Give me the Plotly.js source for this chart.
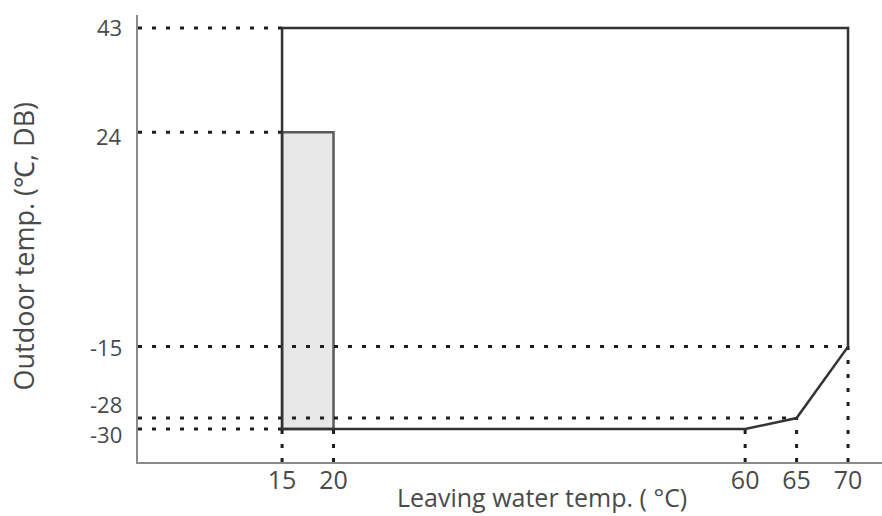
<!DOCTYPE html>
<html>
<head>
<meta charset="utf-8">
<script src="https://cdn.plot.ly/plotly-3.0.1.min.js"></script>
<style>html,body{margin:0;padding:0;background:#fff;}#chart{width:882px;height:516px;}</style>
</head>
<body>
<div id="chart"></div>
<script>
// ---- data ----
const envelopeX = [15, 70, 70, 65, 60, 15, 15];
const envelopeY = [43, 43, -15, -28, -30, -30, 43];
const lowRangeX = [15, 20, 20, 15, 15];
const lowRangeY = [-30, -30, 24, 24, -30];
const xTickVals = [15, 20, 60, 65, 70];
const xTickTop = [-30, -30, -30, -28, -15];   // vertical guide reaches this y
const yTickVals = [43, 24, -15, -28, -30];
const yTickEnd = [15, 15, 70, 65, 15];        // horizontal guide reaches this x
const xTitle = "Leaving water temp. ( °C)";
const yTitle = "Outdoor temp. (℃, DB)";

// ---- style ----
const xMin = 1, xMax = 73.3, yMin = -36, yMax = 45.35;
const textColor = "#4a4a4a";
const fontFam = "Open Sans, sans-serif";
const dotLine = {color: "#1e1e1e", width: 3, dash: "4px,10px"};
const yLabelShift = {"43": 1, "24": -4, "-15": 0, "-28": 14, "-30": -5};

const traces = [];
traces.push({
  x: lowRangeX, y: lowRangeY, mode: "lines", fill: "toself",
  fillcolor: "#e7e7e7", line: {color: "#5a5a5a", width: 2.5}, hoverinfo: "skip"
});
yTickVals.forEach((v, i) => {
  traces.push({x: [xMin, yTickEnd[i]], y: [v, v], mode: "lines", line: dotLine, hoverinfo: "skip"});
});
xTickVals.forEach((v, i) => {
  traces.push({x: [v, v], y: [yMin, xTickTop[i]], mode: "lines", line: dotLine, hoverinfo: "skip"});
});
traces.push({
  x: envelopeX, y: envelopeY, mode: "lines",
  line: {color: "#333333", width: 2.5}, hoverinfo: "skip"
});

const annotations = yTickVals.map(v => ({
  xref: "paper", yref: "y", x: 0, y: v, xanchor: "right", yanchor: "middle",
  xshift: -14, yshift: yLabelShift[String(v)], text: String(v), showarrow: false,
  font: {family: fontFam, size: 22, color: textColor}
}));
annotations.push({
  xref: "paper", yref: "paper", x: 0.543, y: -0.078, xanchor: "center", yanchor: "middle",
  text: xTitle, showarrow: false, font: {family: fontFam, size: 25, color: textColor}
});
annotations.push({
  xref: "paper", yref: "paper", x: -0.154, y: 0.483, xanchor: "center", yanchor: "middle",
  textangle: -90, text: yTitle, showarrow: false, font: {family: fontFam, size: 27, color: textColor}
});

const layout = {
  width: 882, height: 516,
  margin: {l: 138, r: 0, t: 15, b: 54},
  paper_bgcolor: "#fff", plot_bgcolor: "#fff",
  showlegend: false,
  xaxis: {
    range: [xMin, xMax], showgrid: false, zeroline: false,
    showline: true, linecolor: "#8a8a8a", linewidth: 2,
    tickmode: "array", tickvals: xTickVals, ticktext: xTickVals.map(String),
    ticks: "", ticklabelstandoff: -5,
    tickfont: {family: fontFam, size: 25, color: textColor}
  },
  yaxis: {
    range: [yMin, yMax], showgrid: false, zeroline: false,
    showline: true, linecolor: "#8a8a8a", linewidth: 2,
    showticklabels: false, ticks: ""
  },
  annotations: annotations
};

Plotly.newPlot("chart", traces, layout, {staticPlot: true, displayModeBar: false});
</script>
</body>
</html>
